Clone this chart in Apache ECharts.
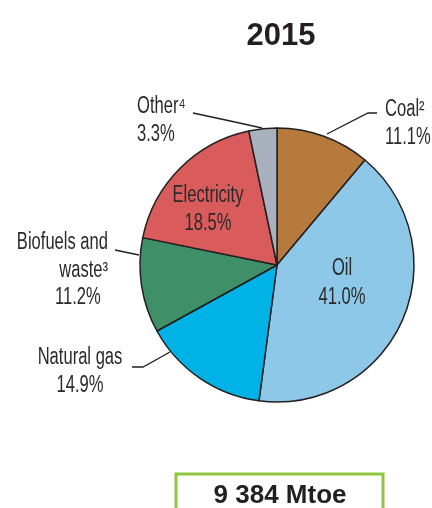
<!DOCTYPE html>
<html><head><meta charset="utf-8">
<script src="https://cdn.jsdelivr.net/npm/echarts@6/dist/echarts.min.js"></script>
<style>html,body{margin:0;padding:0;background:#fff}#c{width:432px;height:508px}</style>
</head><body><div id="c"></div>
<script>
const title = '2015';
const categories = ['Coal²', 'Oil', 'Natural gas', 'Biofuels and\nwaste³', 'Electricity', 'Other⁴'];
const shares = [11.1, 41.0, 14.9, 11.2, 18.5, 3.3];
const totalLabel = '9 384 Mtoe';
const colors = ['#B67A3D', '#8DC8E8', '#00B2E6', '#3F8F69', '#D95B5B', '#A9B1BE'];

const FONT = '"Liberation Sans", Arial, sans-serif';
const TXT = '#2a2a2a';
const FS = 23;
const NARROW = 0.72; // horizontal condensing of label text

// label layout per slice (positions only)
const layouts = [
  {x: 385, y: 96, align: 'left', lh: 27.5, line: [[327,134],[368,113],[377,113]]},
  {x: 342, y: 254, align: 'center', lh: 29},
  {x: 80, y: 344, align: 'center', lh: 27.5, line: [[170,352],[143,367],[132,367]]},
  {x: 108, y: 229, align: 'right', lh: 27.5, line: [[139,255],[127,252.5],[115,250]]},
  {x: 208, y: 181, align: 'center', lh: 28.5},
  {x: 137, y: 93, align: 'left', lh: 27.5, line: [[262,128],[228,120.5],[193,113]]}
];

const data = categories.map((name, i) => ({
  name: name,
  value: shares[i],
  itemStyle: {color: colors[i]},
  label: {show: true, lineHeight: layouts[i].lh,
          rich: {p: {fontFamily: FONT, fontSize: FS, lineHeight: layouts[i].lh, color: TXT,
                     padding: i === 3 ? [0, 10, 0, 0] : 0}}},
  labelLine: {show: !!layouts[i].line}
}));

const chart = echarts.init(document.getElementById('c'), null, {renderer: 'canvas'});
chart.setOption({
  animation: false,
  backgroundColor: '#ffffff',
  title: {
    text: title, left: 276, top: 16, textAlign: 'center',
    textStyle: {fontFamily: '"Liberation Sans", Arial, sans-serif', fontWeight: 'bold', fontSize: 31, color: '#231f20'}
  },
  graphic: [
    {type: 'rect', shape: {x: 176, y: 474, width: 207, height: 50},
     style: {fill: '#fff', stroke: '#8DC63F', lineWidth: 3}},
    {type: 'text', x: 280, y: 496,
     style: {text: totalLabel, fill: '#231f20', font: 'bold 26px "Liberation Sans", Arial, sans-serif',
             textAlign: 'center', textVerticalAlign: 'middle'}}
  ],
  series: [{
    type: 'pie',
    center: [277, 265],
    radius: 137,
    startAngle: 90,
    clockwise: true,
    avoidLabelOverlap: false,
    silent: true,
    itemStyle: {borderColor: '#231f20', borderWidth: 1.5},
    label: {
      show: true,
      formatter: p => p.name + '\n' + '{p|' + p.value.toFixed(1) + '%}',
      fontFamily: FONT, fontSize: FS, lineHeight: 27.5, color: TXT
    },
    labelLine: {show: true, lineStyle: {color: '#231f20', width: 1.3}, length: 10, length2: 10},
    labelLayout: function (params) {
      const L = layouts[params.dataIndex];
      const out = {x: L.x, y: L.y, align: L.align, verticalAlign: 'top'};
      if (L.line) out.labelLinePoints = L.line;
      return out;
    },
    data: data
  }]
});

// condense label text horizontally (narrow typeface look)
try {
  const sData = chart.getModel().getSeriesByIndex(0).getData();
  sData.each(function (idx) {
    const el = sData.getItemGraphicEl(idx);
    const t = el && el.getTextContent && el.getTextContent();
    if (t) { t.originX = 0; t.originY = 0; t.scaleX = NARROW; t.markRedraw(); }
  });
  chart.getZr().refresh();
} catch (e) { console.log(e); }
</script></body></html>
